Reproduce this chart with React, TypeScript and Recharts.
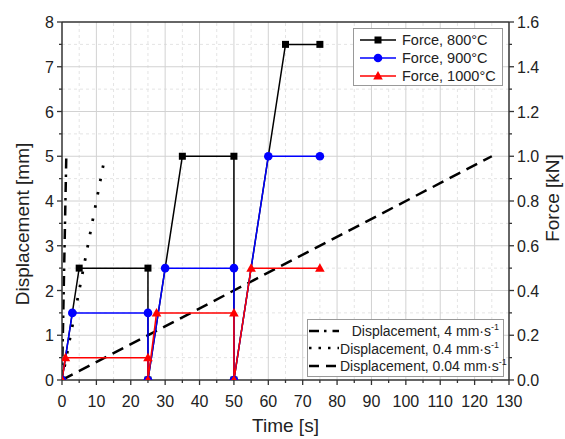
import { ComposedChart, Line, XAxis, YAxis, ReferenceLine } from 'recharts';

// time ticks [s], every 5 (labels every 10)
const timeTicks = [0, 5, 10, 15, 20, 25, 30, 35, 40, 45, 50, 55, 60, 65, 70, 75, 80, 85, 90, 95, 100, 105, 110, 115, 120, 125, 130];
const dispTicks = [0, 0.5, 1, 1.5, 2, 2.5, 3, 3.5, 4, 4.5, 5, 5.5, 6, 6.5, 7, 7.5, 8];
const forceTicks = [0, 0.1, 0.2, 0.3, 0.4, 0.5, 0.6, 0.7, 0.8, 0.9, 1.0, 1.1, 1.2, 1.3, 1.4, 1.5, 1.6];

const gridMajorX = [10, 20, 30, 40, 50, 60, 70, 80, 90, 100, 110, 120];
const gridMinorX = [5, 15, 25, 35, 45, 55, 65, 75, 85, 95, 105, 115, 125];
const gridMajorY = [1, 2, 3, 4, 5, 6, 7];
const gridMinorY = [0.5, 1.5, 2.5, 3.5, 4.5, 5.5, 6.5, 7.5];

// force [kN]
const time800 = [0, 5, 25, 25, 35, 50, 50, 65, 75];
const force800 = [0, 0.5, 0.5, 0, 1.0, 1.0, 0, 1.5, 1.5];
const time900 = [0, 3, 25, 25, 30, 50, 50, 60, 75];
const force900 = [0, 0.3, 0.3, 0, 0.5, 0.5, 0, 1.0, 1.0];
const time1000 = [0, 1, 25, 25, 27.5, 50, 50, 55, 75];
const force1000 = [0, 0.1, 0.1, 0, 0.3, 0.3, 0, 0.5, 0.5];

// displacement [mm]
const timeDisp4 = [0, 1.25];
const disp4 = [0, 5];
const timeDisp04 = [0, 12.5];
const disp04 = [0, 5];
const timeDisp004 = [0, 125];
const disp004 = [0, 5];

const zip = (t: number[], v: number[], key: string) => t.map((x, i) => ({ t: x, [key]: v[i] }));

const d800 = zip(time800, force800, 'f');
const d900 = zip(time900, force900, 'f');
const d1000 = zip(time1000, force1000, 'f');
const dd4 = zip(timeDisp4, disp4, 'd');
const dd04 = zip(timeDisp04, disp04, 'd');
const dd004 = zip(timeDisp004, disp004, 'd');

const AXIS = '#333';
const FONT = '"Liberation Sans", Arial, sans-serif';

const XTick = (p: any) => {
  const v = p.payload.value;
  const major = v % 10 === 0;
  return (
    <g>
      <line x1={p.x} x2={p.x} y1={p.y} y2={p.y + (major ? 5 : 3)} stroke={AXIS} strokeWidth={1.3} />
      {major && (
        <text x={p.x} y={p.y + 27} textAnchor="middle" fontSize={16} fill="#222" fontFamily={FONT}>
          {v}
        </text>
      )}
    </g>
  );
};

const LeftTick = (p: any) => {
  const v = p.payload.value;
  const major = Number.isInteger(v);
  return (
    <g>
      <line x1={p.x - (major ? 5 : 3)} x2={p.x} y1={p.y} y2={p.y} stroke={AXIS} strokeWidth={1.3} />
      {major && (
        <text x={p.x - 8} y={p.y + 6} textAnchor="end" fontSize={16} fill="#222" fontFamily={FONT}>
          {v}
        </text>
      )}
    </g>
  );
};

const RightTick = (p: any) => {
  const v = p.payload.value;
  const major = Math.round(v * 10) % 2 === 0;
  return (
    <g>
      <line x1={p.x} x2={p.x + (major ? 5 : 3)} y1={p.y} y2={p.y} stroke={AXIS} strokeWidth={1.3} />
      {major && (
        <text x={p.x + 8} y={p.y + 6} textAnchor="start" fontSize={16} fill="#222" fontFamily={FONT}>
          {v.toFixed(1)}
        </text>
      )}
    </g>
  );
};

const squareDot = (p: any) => (
  <rect key={`s${p.index}`} x={p.cx - 3.5} y={p.cy - 3.5} width={7} height={7} fill="#000" />
);
const circleDot = (p: any) => <circle key={`c${p.index}`} cx={p.cx} cy={p.cy} r={4.3} fill="#0000ff" />;
const triDot = (p: any) => (
  <path
    key={`t${p.index}`}
    d={`M${p.cx},${p.cy - 5} L${p.cx + 4.8},${p.cy + 3.5} L${p.cx - 4.8},${p.cy + 3.5} Z`}
    fill="#ff0000"
  />
);

const forceLegend = [
  { label: 'Force, 800°C', color: '#000', marker: 'square' },
  { label: 'Force, 900°C', color: '#0000ff', marker: 'circle' },
  { label: 'Force, 1000°C', color: '#ff0000', marker: 'triangle' },
];

const dispLegend = [
  { label: 'Displacement, 4 mm·s', dash: '10 5 2.5 6' },
  { label: 'Displacement, 0.4 mm·s', dash: '2.5 7' },
  { label: 'Displacement, 0.04 mm·s', dash: '10 7' },
];

export default function App() {
  return (
    <div
      style={{
        position: 'absolute',
        left: 0,
        top: 0,
        width: 565,
        height: 439,
        background: '#fff',
        fontFamily: FONT,
      }}
    >
      <ComposedChart width={565} height={439} margin={{ top: 22, right: 6, bottom: 19, left: 12 }}>
        <XAxis
          type="number"
          dataKey="t"
          domain={[0, 130]}
          ticks={timeTicks}
          interval={0}
          tickSize={0}
          tickMargin={0}
          tick={XTick}
          tickLine={false}
          axisLine={{ stroke: AXIS, strokeWidth: 1.5 }}
          height={40}
          allowDataOverflow
          label={{
            content: ({ viewBox }: any) => (
              <text
                x={viewBox.x + viewBox.width / 2}
                y={viewBox.y + 52}
                textAnchor="middle"
                fontSize={19}
                fill="#222"
                fontFamily={FONT}
              >
                Time [s]
              </text>
            ),
          }}
        />
        <YAxis
          yAxisId="left"
          type="number"
          domain={[0, 8]}
          ticks={dispTicks}
          interval={0}
          tickSize={0}
          tickMargin={0}
          tick={LeftTick}
          tickLine={false}
          axisLine={{ stroke: AXIS, strokeWidth: 1.5 }}
          width={50}
          allowDataOverflow
          label={{
            content: ({ viewBox }: any) => {
              const x = viewBox.x + 17;
              const y = viewBox.y + viewBox.height / 2 + 23;
              return (
                <text
                  x={x}
                  y={y}
                  transform={`rotate(-90, ${x}, ${y})`}
                  textAnchor="middle"
                  fontSize={19}
                  fill="#222"
                  fontFamily={FONT}
                >
                  Displacement [mm]
                </text>
              );
            },
          }}
        />
        <YAxis
          yAxisId="right"
          orientation="right"
          type="number"
          domain={[0, 1.6]}
          ticks={forceTicks}
          interval={0}
          tickSize={0}
          tickMargin={0}
          tick={RightTick}
          tickLine={false}
          axisLine={{ stroke: AXIS, strokeWidth: 1.5 }}
          width={50}
          allowDataOverflow
          label={{
            content: ({ viewBox }: any) => {
              const x = viewBox.x + viewBox.width;
              const y = viewBox.y + viewBox.height / 2 - 3;
              return (
                <text
                  x={x}
                  y={y}
                  transform={`rotate(-90, ${x}, ${y})`}
                  textAnchor="middle"
                  fontSize={19}
                  fill="#222"
                  fontFamily={FONT}
                >
                  Force [kN]
                </text>
              );
            },
          }}
        />

        {gridMinorX.map((v) => (
          <ReferenceLine key={`mx${v}`} x={v} yAxisId="left" stroke="#e4e4e4" strokeDasharray="3 3" />
        ))}
        {gridMinorY.map((v) => (
          <ReferenceLine key={`my${v}`} y={v} yAxisId="left" stroke="#e4e4e4" strokeDasharray="3 3" />
        ))}
        {gridMajorX.map((v) => (
          <ReferenceLine key={`gx${v}`} x={v} yAxisId="left" stroke="#d2d2d2" />
        ))}
        {gridMajorY.map((v) => (
          <ReferenceLine key={`gy${v}`} y={v} yAxisId="left" stroke="#d2d2d2" />
        ))}
        <ReferenceLine y={8} yAxisId="left" stroke={AXIS} strokeWidth={1.5} />

        <Line
          data={dd4}
          dataKey="d"
          yAxisId="left"
          type="linear"
          stroke="#000"
          strokeWidth={2.5}
          strokeDasharray="10 5 2.5 6"
          dot={false}
          isAnimationActive={false}
        />
        <Line
          data={dd04}
          dataKey="d"
          yAxisId="left"
          type="linear"
          stroke="#000"
          strokeWidth={2.8}
          strokeDasharray="2.5 11"
          dot={false}
          isAnimationActive={false}
        />
        <Line
          data={dd004}
          dataKey="d"
          yAxisId="left"
          type="linear"
          stroke="#000"
          strokeWidth={2.5}
          strokeDasharray="12 7"
          dot={false}
          isAnimationActive={false}
        />

        <Line
          data={d800}
          dataKey="f"
          yAxisId="right"
          type="linear"
          stroke="#000"
          strokeWidth={1.5}
          dot={squareDot}
          isAnimationActive={false}
        />
        <Line
          data={d900}
          dataKey="f"
          yAxisId="right"
          type="linear"
          stroke="#0000ff"
          strokeWidth={1.5}
          dot={circleDot}
          isAnimationActive={false}
        />
        <Line
          data={d1000}
          dataKey="f"
          yAxisId="right"
          type="linear"
          stroke="#ff0000"
          strokeWidth={1.5}
          dot={triDot}
          isAnimationActive={false}
        />
      </ComposedChart>

      <div
        style={{
          position: 'absolute',
          left: 353,
          top: 28,
          width: 150,
          height: 58,
          border: '1px solid #999',
          background: '#fff',
          boxSizing: 'border-box',
          paddingTop: 2,
        }}
      >
        {forceLegend.map((r) => (
          <div key={r.label} style={{ display: 'flex', alignItems: 'center', height: 18 }}>
            <svg width={44} height={14} style={{ marginLeft: 4, flex: 'none' }}>
              <line x1={2} x2={38} y1={7} y2={7} stroke={r.color} strokeWidth={1.5} />
              {r.marker === 'square' && <rect x={16.5} y={3.5} width={7} height={7} fill={r.color} />}
              {r.marker === 'circle' && <circle cx={20} cy={7} r={4.3} fill={r.color} />}
              {r.marker === 'triangle' && <path d="M20,2 L24.8,10.5 L15.2,10.5 Z" fill={r.color} />}
            </svg>
            <span style={{ fontSize: 14.5, color: '#222', whiteSpace: 'nowrap' }}>{r.label}</span>
          </div>
        ))}
      </div>

      <div
        style={{
          position: 'absolute',
          left: 307,
          top: 319,
          width: 197,
          height: 58,
          border: '1px solid #999',
          background: '#fff',
          boxSizing: 'border-box',
          paddingTop: 2,
        }}
      >
        {dispLegend.map((r) => (
          <div key={r.label} style={{ display: 'flex', alignItems: 'center', height: 17.5 }}>
            <svg width={32} height={12} style={{ marginLeft: 0, flex: 'none' }}>
              <line x1={1} x2={31} y1={6} y2={6} stroke="#000" strokeWidth={2.5} strokeDasharray={r.dash} />
            </svg>
            <span
              style={{
                fontSize: 14,
                color: '#222',
                whiteSpace: 'nowrap',
                flex: 1,
                textAlign: 'right',
                paddingRight: 4,
              }}
            >
              {r.label}
              <sup style={{ fontSize: 9 }}>-1</sup>
            </span>
          </div>
        ))}
      </div>
    </div>
  );
}
